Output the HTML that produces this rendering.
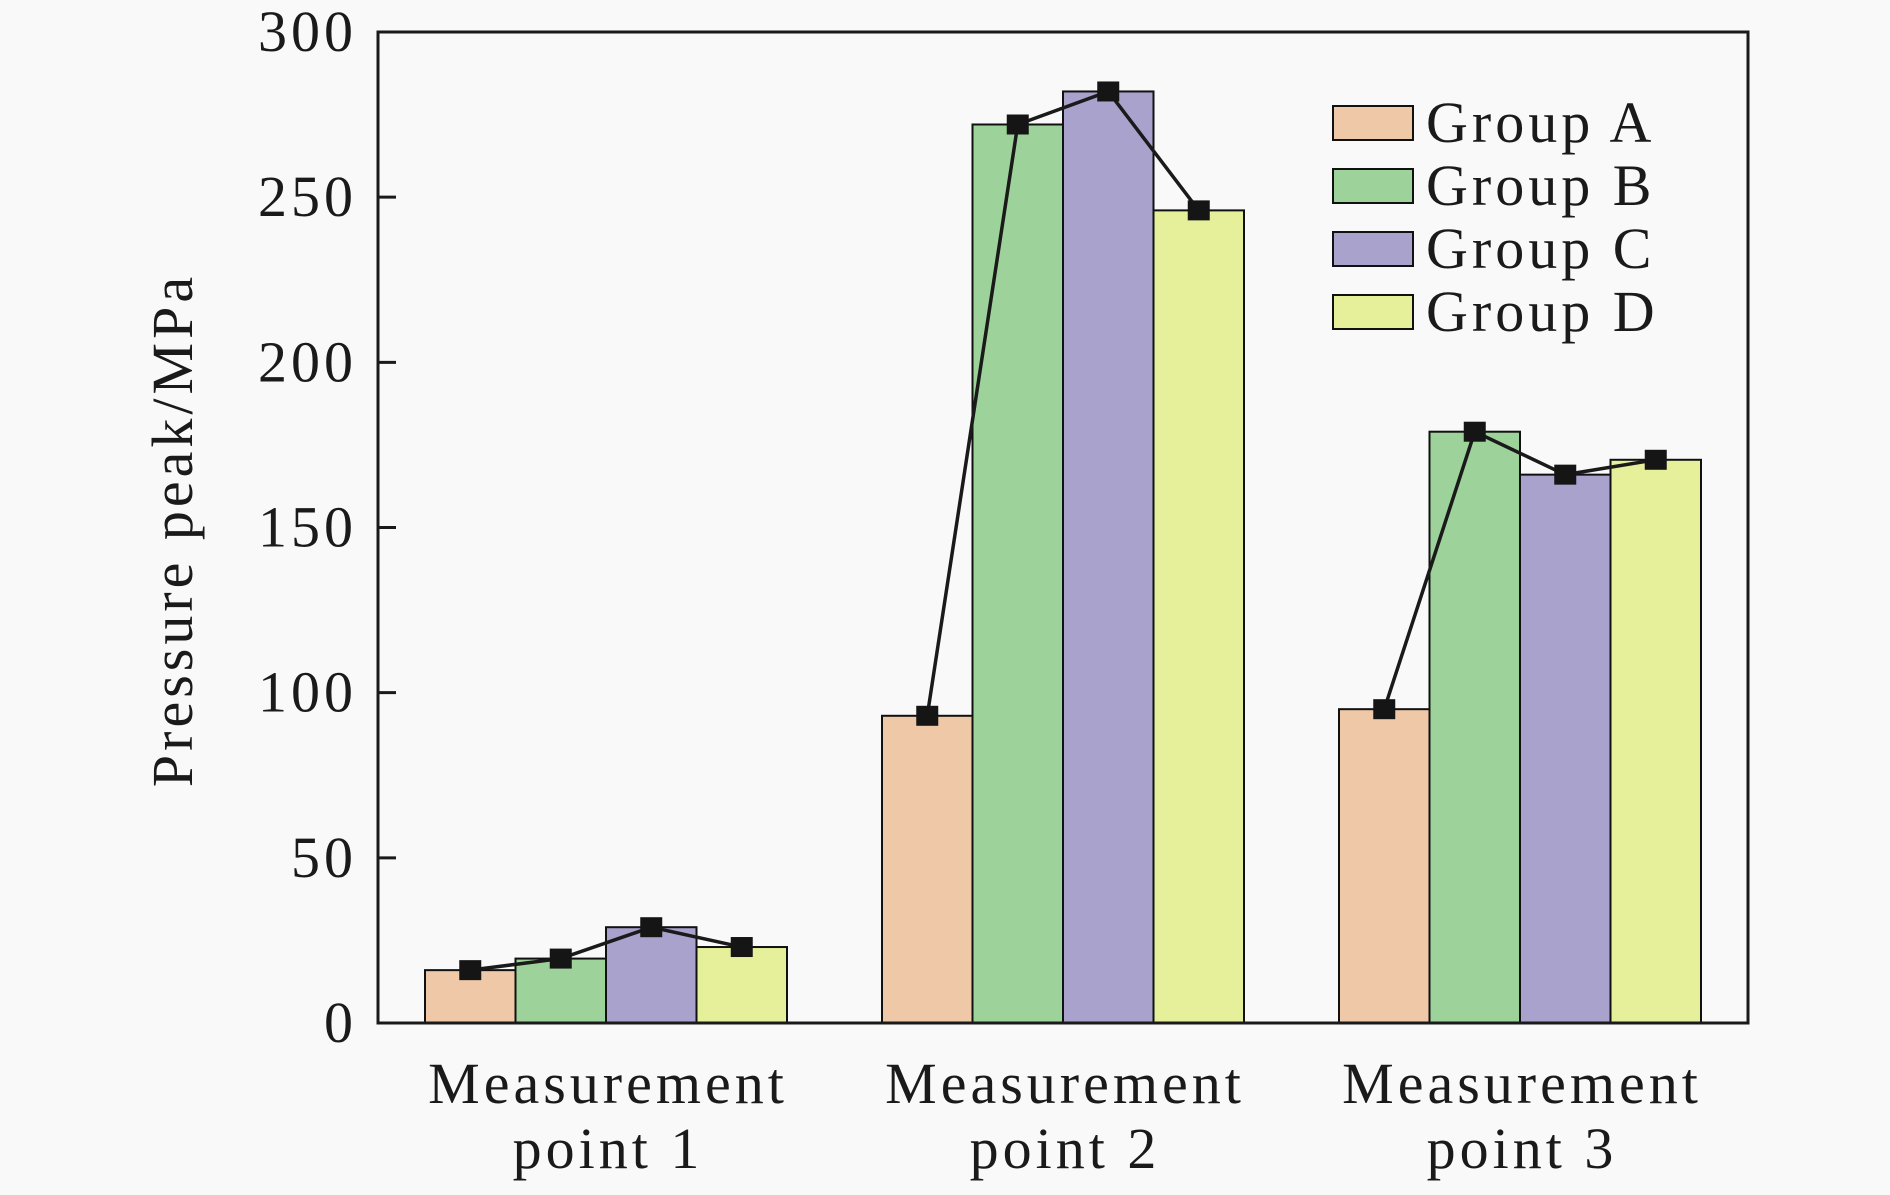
<!DOCTYPE html>
<html><head><meta charset="utf-8"><style>
body{margin:0;background:#f9f9f9;}
svg text{font-family:"Liberation Serif",serif;fill:#1a1a1a;letter-spacing:4px;}
</style></head><body>
<svg id="chart" width="1890" height="1190" xmlns="http://www.w3.org/2000/svg">
<rect width="1890" height="1190" fill="#f9f9f9"/>
<g id="bars"></g><g id="lines"></g><g id="axes"></g><g id="legend"></g>
</svg>
<script>
const categories=[["Measurement","point 1"],["Measurement","point 2"],["Measurement","point 3"]];
const groups=["Group A","Group B","Group C","Group D"];
const groupA=[16,93,95];
const groupB=[19.5,272,179];
const groupC=[29,282,166];
const groupD=[23,246,170.5];
const yTicks=[0,50,100,150,200,250,300];
const colors=["#efc8a8","#9dd39a","#a8a2cc","#e6f09a"];
const series=[groupA,groupB,groupC,groupD];
const L=378,R=1748,T=32,B=1023,yMax=300;
const ns="http://www.w3.org/2000/svg";
function y(v){return B-(v/yMax)*(B-T);}
const gap=457,c0=606,bw=90.5;
function cx(i){return c0+i*gap;}
function bx(i,j){return cx(i)-2*bw+j*bw;}
function mk(tag,attrs,parent,txt){const e=document.createElementNS(ns,tag);for(const k in attrs)e.setAttribute(k,attrs[k]);if(txt!==undefined)e.textContent=txt;document.getElementById(parent).appendChild(e);return e;}
categories.forEach((c,i)=>{
  series.forEach((s,j)=>{
    const r=mk('rect',{x:bx(i,j),y:y(s[i]),width:bw,height:B-y(s[i]),fill:colors[j],stroke:'#111','stroke-width':2},'bars');
    
    
  });
  const pts=series.map((s,j)=>(bx(i,j)+bw/2)+','+y(s[i])).join(' ');
  const pl=mk('polyline',{points:pts,fill:'none',stroke:'#1a1a1a','stroke-width':3.5},'lines');
  
  
  series.forEach((s,j)=>{
    const m=mk('rect',{x:bx(i,j)+bw/2-11,y:y(s[i])-10,width:22,height:20,fill:'#151515'},'lines');
    
    
  });
  const t1=mk('text',{x:cx(i)+2,y:1103,'font-size':58,'text-anchor':'middle'},'axes',c[0]);
  
  
  const t2=mk('text',{x:cx(i)+2,y:1168,'font-size':58,'text-anchor':'middle'},'axes',c[1]);
  
  
});
const fr=mk('rect',{x:L,y:T,width:R-L,height:B-T,fill:'none',stroke:'#1a1a1a','stroke-width':3},'axes');


yTicks.forEach(v=>{
  const tk=mk('line',{x1:L,x2:L+18,y1:y(v),y2:y(v),stroke:'#1a1a1a','stroke-width':3},'axes');
  
  
  const tl=mk('text',{x:357,y:y(v)+19,'font-size':58,'text-anchor':'end'},'axes',String(v));
  
  
});
const yt=mk('text',{x:0,y:0,'font-size':58,'text-anchor':'middle','letter-spacing':'5.5px',transform:'translate(192,530) rotate(-90)'},'axes','Pressure peak/MPa');


groups.forEach((g,j)=>{
  const yy=106+j*63;
  const sw=mk('rect',{x:1333,y:yy,width:80,height:34,fill:colors[j],stroke:'#111','stroke-width':2},'legend');
  
  
  const lt=mk('text',{x:1426,y:yy+36,'font-size':58},'legend',g);
  
  
});
</script>
</body></html>
